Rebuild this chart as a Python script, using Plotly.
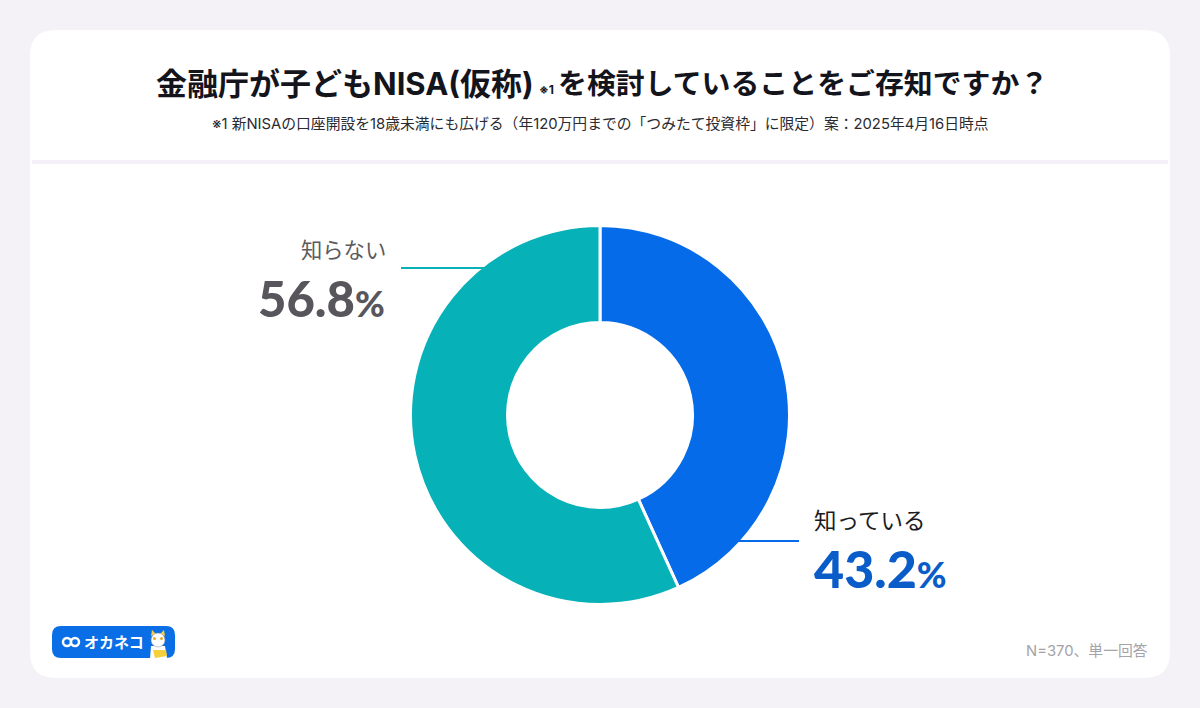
import plotly.graph_objects as go

W, H = 1200, 708

# data
labels = ["知っている", "知らない"]
values = [43.2, 56.8]
slice_colors = ["#056be8", "#06b1b8"]
label_colors = ["#1b1b22", "#5c5a60"]
value_colors = ["#0a5cc8", "#58565c"]

title_left = "金融庁が子どもNISA(仮称)"
title_mark = "※1"
title_right = "を検討していることをご存知ですか？"
subtitle = "※1 新NISAの口座開設を18歳未満にも広げる（年120万円までの「つみたて投資枠」に限定）案：2025年4月16日時点"
note = "N=370、単一回答"
logo_text = "オカネコ"

JP = "Inter, Noto Sans CJK JP"
NUM = "Lato"


# pixel helpers, page coords with y going down
def px(x):
    return x / W


def py(y):
    return 1 - y / H


def rounded(x0, y0, x1, y1, r):
    return (f"M {px(x0+r)} {py(y0)} L {px(x1-r)} {py(y0)} "
            f"Q {px(x1)} {py(y0)} {px(x1)} {py(y0+r)} L {px(x1)} {py(y1-r)} "
            f"Q {px(x1)} {py(y1)} {px(x1-r)} {py(y1)} L {px(x0+r)} {py(y1)} "
            f"Q {px(x0)} {py(y1)} {px(x0)} {py(y1-r)} L {px(x0)} {py(y0+r)} "
            f"Q {px(x0)} {py(y0)} {px(x0+r)} {py(y0)} Z")


def poly(points):
    return "M " + " L ".join(f"{px(x)} {py(y)}" for x, y in points) + " Z"


def line(x0, y0, x1, y1, color, width, layer="below"):
    return dict(type="line", layer=layer, xref="paper", yref="paper", x0=px(x0), x1=px(x1),
                y0=py(y0), y1=py(y1), line=dict(color=color, width=width))


def blob(d, color):
    return dict(type="path", layer="below", xref="paper", yref="paper", path=d, fillcolor=color,
                line=dict(color=color, width=0))


def oval(x0, y0, x1, y1, color, line_color=None, w=0):
    return dict(type="circle", layer="below", xref="paper", yref="paper", x0=px(x0), x1=px(x1),
                y0=py(y0), y1=py(y1), fillcolor=color,
                line=dict(color=line_color or color, width=w))


def text(x, y, s, size, color, anchor="center", weight=400, family=JP):
    return dict(xref="paper", yref="paper", x=px(x), y=py(y), text=s, showarrow=False,
                xanchor=anchor, yanchor="middle",
                font=dict(family=family, size=size, color=color, weight=weight))


def big_value(x, y, v, size, color, anchor):
    s = f"{v}<span style=\"font-size:36px\">%</span>"
    return text(x, y, s, size, color, anchor, 900, NUM)


fig = go.Figure(go.Pie(
    labels=labels,
    values=values,
    hole=0.488,
    sort=False,
    direction="clockwise",
    rotation=0,
    textinfo="none",
    hoverinfo="skip",
    showlegend=False,
    marker=dict(colors=slice_colors, line=dict(color="#ffffff", width=3)),
    domain=dict(x=[px(410.5), px(789.5)], y=[py(604.5), py(225.5)]),
))

shapes = [
    blob(rounded(30, 30, 1170, 678, 26), "#ffffff"),
    line(32, 162, 1168, 162, "#f3f1f7", 4),
    line(737, 541, 799, 541, slice_colors[0], 2, "above"),
    line(401, 268, 487, 268, slice_colors[1], 2, "above"),
    # logo badge
    blob(rounded(52, 626, 175, 658, 9), "#0a6ee6"),
    oval(63, 638, 71, 646, "#0a6ee6", "#ffffff", 2.5),
    oval(71, 638, 79, 646, "#0a6ee6", "#ffffff", 2.5),
    # cat
    blob(poly([(150, 659), (151, 646), (165, 646), (167, 658), (164, 659)]), "#ffffff"),
    blob(poly([(151, 636), (152, 630), (156, 634)]), "#f4cf4a"),
    blob(poly([(160, 634), (164, 630), (165, 636)]), "#f4cf4a"),
    oval(151, 633, 165, 647, "#ffffff", "#8a8f99", 0.5),
    oval(153, 637, 156, 640, "#e0a92a"),
    oval(160, 637, 163, 640, "#e0a92a"),
    blob(poly([(153, 650), (166, 650), (167, 656), (155, 658)]), "#f5cf3c"),
]

annotations = [
    text(536, 83, f"<b>{title_left}</b>", 31, "#14141c", "right", 700),
    text(546, 89, f"<b>{title_mark}</b>", 12, "#14141c", weight=700),
    text(556, 83, f"<b>{title_right}</b>", 28.9, "#14141c", "left", 700),
    text(600, 124, subtitle, 14.8, "#2a2a30"),
    text(812, 520, labels[0], 22.5, label_colors[0], "left"),
    big_value(812, 568, values[0], 52, value_colors[0], "left"),
    text(388, 250, labels[1], 21.3, label_colors[1], "right"),
    big_value(387, 298, values[1], 49, value_colors[1], "right"),
    text(1150, 651, note, 14.8, "#a3a3a8", "right"),
    text(114, 642, f"<b>{logo_text}</b>", 15, "#ffffff", weight=700),
]

fig.update_layout(
    width=W,
    height=H,
    margin=dict(l=0, r=0, t=0, b=0),
    paper_bgcolor="#f4f2f6",
    plot_bgcolor="#f4f2f6",
    shapes=shapes,
    annotations=annotations,
)

fig.write_html("out.html", config={"displayModeBar": False},
               post_script="document.body.style.margin='0';")
